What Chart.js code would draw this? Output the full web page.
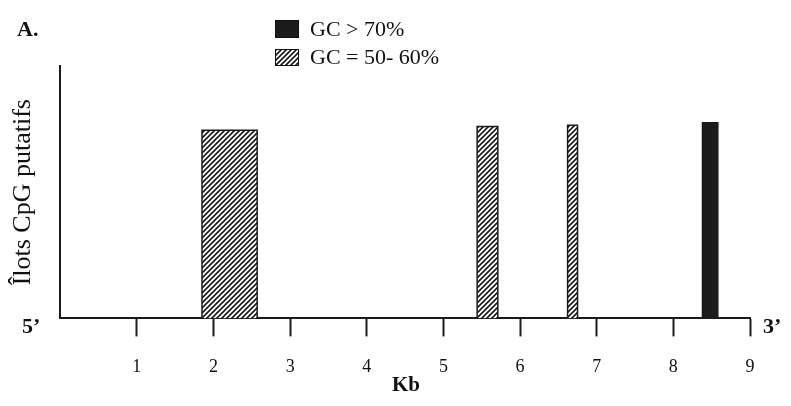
<!DOCTYPE html>
<html>
<head>
<meta charset="utf-8">
<script src="https://cdn.jsdelivr.net/npm/chart.js@4.4.1/dist/chart.umd.min.js"></script>
<style>
    body { margin: 0; background: #fff; }
    #wrap { position: relative; width: 791px; height: 406px; font-family: "Liberation Serif", serif; color: #111; }
    #myChart { position: absolute; left: 0; top: 0; }
    .note { position: absolute; font-weight: bold; font-size: 22px; line-height: 22px; }
    .legend-row { position: absolute; left: 275px; font-size: 22px; line-height: 22px; display: flex; align-items: center; }
    .swatch { width: 24px; border: 1px solid #111; margin-right: 11px; box-sizing: border-box; }
</style>
</head>
<body>
<div id="wrap">
    <canvas id="myChart" width="791" height="406"></canvas>
    <div class="note" style="left:17px; top:18px;">A.</div>
    <div class="note" style="left:22px; top:315px;">5’</div>
    <div class="note" style="left:763px; top:315px;">3’</div>
    <div class="note" style="left:392px; top:373px; font-size:21px;">Kb</div>
    <div class="legend-row" style="top:18px;"><div class="swatch" id="swHigh" style="height:18px;"></div><span>GC &gt; 70%</span></div>
    <div class="legend-row" style="top:46px;"><div class="swatch" id="swMid" style="height:17px;"></div><span>GC = 50- 60%</span></div>
</div>
<script>
// CpG island positions along the sequence (kb) and relative heights
const islandStart = [1.85, 5.44, 6.62, 8.38];
const islandEnd = [2.57, 5.71, 6.75, 8.58];
const islandHeight = [74.5, 76, 76.5, 77.5];
const islandClass = ["mid", "mid", "mid", "high"];

// Legend labels
const classLabels = { high: "GC > 70%", mid: "GC = 50- 60%" };

// x axis ticks (kb)
const xTicks = [1, 2, 3, 4, 5, 6, 7, 8, 9];

function makeHatch() {
    const tile = document.createElement("canvas");
    tile.width = 5;
    tile.height = 5;
    const c = tile.getContext("2d");
    c.fillStyle = "#fff";
    c.fillRect(0, 0, 5, 5);
    c.strokeStyle = "#1a1a1a";
    c.lineWidth = 1.6;
    c.beginPath();
    c.moveTo(-1, 6); c.lineTo(6, -1);
    c.moveTo(-1, 1); c.lineTo(1, -1);
    c.moveTo(4, 6); c.lineTo(6, 4);
    c.stroke();
    return tile;
}

const hatchTile = makeHatch();
const ctx = document.getElementById("myChart").getContext("2d");
const hatch = ctx.createPattern(hatchTile, "repeat");

document.getElementById("swHigh").style.background = "#1c1c1c";
document.getElementById("swMid").style.background = "url(" + hatchTile.toDataURL() + ")";

// each island is a closed rectangle drawn through the scales
const datasets = islandStart.map((s, i) => {
    const e = islandEnd[i];
    const h = islandHeight[i];
    const high = islandClass[i] === "high";
    return {
        label: classLabels[islandClass[i]],
        data: [{ x: s, y: 0 }, { x: s, y: h }, { x: e, y: h }, { x: e, y: 0 }],
        borderColor: "#1a1a1a",
        borderWidth: 1.5,
        backgroundColor: high ? "#1c1c1c" : hatch,
        fill: "origin",
        pointRadius: 0,
        tension: 0
    };
});

const chart = new Chart(ctx, {
    type: "line",
    data: { datasets: datasets },
    options: {
        responsive: false,
        animation: false,
        layout: { padding: { top: 66, right: 41, left: 8, bottom: 8 } },
        plugins: {
            legend: { display: false },
            tooltip: { enabled: false }
        },
        scales: {
            x: {
                type: "linear",
                min: 0,
                max: 9,
                afterBuildTicks: (scale) => {
                    scale.ticks = xTicks.map(v => ({ value: v }));
                },
                grid: {
                    drawOnChartArea: false,
                    drawTicks: true,
                    tickLength: 18,
                    tickWidth: 2,
                    color: "#1a1a1a"
                },
                border: { display: true, color: "#1a1a1a", width: 2 },
                ticks: {
                    color: "#111",
                    padding: 20,
                    font: { family: "Liberation Serif", size: 18 }
                }
            },
            y: {
                min: 0,
                max: 100,
                ticks: { display: false },
                grid: { display: false },
                border: { display: true, color: "#1a1a1a", width: 2 },
                title: {
                    display: true,
                    text: "Îlots CpG putatifs",
                    color: "#111",
                    padding: { top: 0, bottom: 13 },
                    font: { family: "Liberation Serif", size: 26 }
                }
            }
        }
    }
});
</script>
</body>
</html>
